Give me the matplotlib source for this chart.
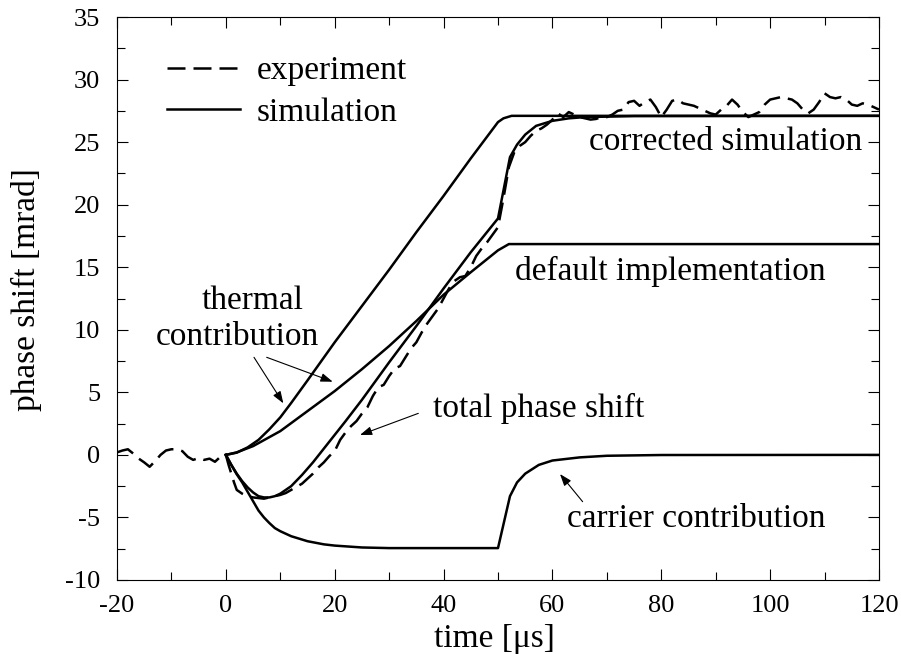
import matplotlib
matplotlib.use("Agg")
import matplotlib.pyplot as plt
from matplotlib.ticker import MultipleLocator

plt.rcParams['font.family'] = ['Liberation Serif', 'DejaVu Serif']
plt.rcParams['axes.unicode_minus'] = False

# ---------------- data ----------------
# experiment (dashed)
exp_t = [-20, -19, -18, -17, -16, -15, -14, -13, -12, -11, -10, -9, -8, -7, -6, -5, -4, -3, -2, -1, 0,
         0.5, 1, 1.5, 2, 3, 4, 5, 6, 7, 8, 9, 10, 11, 12, 13, 14, 15, 16, 17, 18, 19, 20,
         21, 22, 23, 24, 25, 26, 27, 28, 29, 30, 31, 32, 33, 34, 35, 36, 37, 38, 39, 40,
         41, 42, 43, 44, 45, 46, 47, 48, 49, 50, 51, 52, 53, 54, 55, 56, 57, 58, 59, 60,
         61, 62, 63, 64, 65, 66, 67, 68, 69, 70, 71, 72, 73, 74, 75, 76, 77, 78, 79, 80,
         81, 82, 83, 84, 85, 86, 87, 88, 89, 90, 91, 92, 93, 94, 95, 96, 97, 98, 99, 100,
         101, 102, 103, 104, 105, 106, 107, 108, 109, 110, 111, 112, 113, 114, 115, 116, 117, 118, 119, 120]
exp_phase = [0.2, 0.35, 0.45, 0.1, -0.3, -0.6, -0.95, -0.5, 0.0, 0.35, 0.45, 0.45, 0.3, -0.15, -0.4, -0.25, -0.4, -0.3, -0.55, -0.15, 0.0,
             -0.8, -1.5, -2.2, -2.8, -3.1, -3.3, -3.4, -3.45, -3.5, -3.4, -3.3, -3.2, -3.05, -2.8, -2.55, -2.3, -1.9, -1.5, -1.0, -0.6, -0.1, 0.3,
             1.2, 1.8, 2.3, 2.7, 3.3, 3.8, 4.7, 5.4, 5.6, 6.3, 6.9, 7.1, 7.8, 8.5, 9.0, 9.8, 10.5, 11.1, 11.7, 12.5,
             13.3, 13.9, 14.2, 14.3, 15.0, 15.9, 16.5, 17.0, 17.6, 18.2, 20.5, 23.0, 24.2, 24.7, 25.0, 25.5, 25.9, 26.1, 26.4, 26.8,
             27.3, 27.0, 27.4, 27.2, 27.0, 26.9, 26.8, 26.85, 27.0, 27.0, 27.2, 27.5, 27.6, 28.2, 28.3, 27.9, 28.2, 28.4, 27.8, 27.0,
             27.6, 28.3, 28.4, 28.1, 28.0, 27.9, 27.7, 27.5, 27.3, 27.2, 27.6, 27.9, 28.4, 28.0, 27.4, 27.0, 27.2, 27.4, 28.0, 28.4,
             28.5, 28.6, 28.5, 28.4, 28.1, 27.6, 27.3, 27.6, 28.2, 28.9, 28.6, 28.5, 28.6, 28.4, 28.0, 27.9, 28.1, 28.0, 27.8, 27.6]

# simulation: corrected total phase shift
tot_t = [0, 1, 2, 3, 4, 5, 6, 7, 8, 9, 10, 12, 14, 16, 18, 20, 22, 25, 28, 30, 35, 40, 45, 50,
         52.2, 53.5, 55, 57, 60, 63, 66, 75, 120]
tot_phase = [0, -0.8, -1.5, -2.1, -2.6, -3.0, -3.3, -3.4, -3.4, -3.3, -3.1, -2.5, -1.6, -0.6, 0.5, 1.6, 2.7, 4.4, 6.2, 7.4, 10.3, 13.3, 16.2, 18.9,
             23.8, 24.8, 25.6, 26.3, 26.7, 26.9, 27.0, 27.08, 27.1]

# simulation: thermal contribution (corrected)
thc_t = [0, 2, 4, 6, 8, 10, 12, 15, 20, 25, 30, 35, 40, 45, 50, 51, 52.5, 120]
thc_phase = [0, 0.18, 0.6, 1.2, 2.05, 3.0, 4.15, 5.95, 9.0, 11.9, 14.8, 17.8, 20.7, 23.7, 26.6, 26.9, 27.1, 27.1]

# simulation: thermal contribution (default implementation)
thd_t = [0, 2, 5, 10, 15, 20, 25, 30, 35, 40, 45, 50, 52, 120]
thd_phase = [0, 0.2, 0.7, 1.9, 3.5, 5.1, 6.85, 8.7, 10.7, 12.8, 14.6, 16.35, 16.85, 16.85]

# simulation: carrier contribution
car_t = [0, 1, 2, 3, 4, 5, 6, 7, 8, 9, 10, 12, 15, 18, 20, 25, 30, 50,
         52.2, 53.5, 55, 57.5, 60, 65, 70, 80, 120]
car_phase = [0, -0.8, -1.55, -2.2, -2.95, -3.7, -4.45, -5.0, -5.45, -5.85, -6.1, -6.5, -6.9, -7.15, -7.25, -7.4, -7.45, -7.45,
             -3.3, -2.2, -1.5, -0.8, -0.45, -0.2, -0.07, -0.01, 0.0]

legend_labels = ["experiment", "simulation"]
x_label = "time [\u03bcs]"
y_label = "phase shift [mrad]"

# ---------------- figure ----------------
fig = plt.figure(figsize=(9.01, 6.54), dpi=100)
ax = fig.add_axes([117/901, (654-580)/654, 762/901, 563/654])

LW = 1.8
l_exp, = ax.plot(exp_t, exp_phase, color='black', lw=LW, dashes=[7.2, 3.2])
l_sim, = ax.plot(tot_t, tot_phase, color='black', lw=LW)
ax.plot(thc_t, thc_phase, color='black', lw=LW)
ax.plot(thd_t, thd_phase, color='black', lw=LW)
ax.plot(car_t, car_phase, color='black', lw=LW)

ax.set_xlim(-20, 120)
ax.set_ylim(-10, 35)
ax.xaxis.set_major_locator(MultipleLocator(20))
ax.xaxis.set_minor_locator(MultipleLocator(10))
ax.yaxis.set_major_locator(MultipleLocator(5))
ax.yaxis.set_minor_locator(MultipleLocator(2.5))
ax.tick_params(which='both', direction='in', top=True, right=True, width=0.8, labelsize=19)
ax.tick_params(which='major', length=8)
ax.tick_params(which='minor', length=5.5)
ax.tick_params(axis='x', which='major', pad=10.5)
ax.tick_params(axis='y', which='major', pad=12)
for s in ax.spines.values():
    s.set_linewidth(0.8)

ax.set_xlabel(x_label, fontsize=24)
ax.set_ylabel(y_label, fontsize=24)
ax.xaxis.set_label_coords(0.495, -0.078)
ax.yaxis.set_label_coords(-0.0984, 0.515)

ax.legend([l_exp, l_sim], legend_labels, loc='upper left', bbox_to_anchor=(0.065, 0.931),
          frameon=False, fontsize=24, handlelength=2.19, handletextpad=0.52,
          labelspacing=0.32, borderpad=0, borderaxespad=0)

FS = 24
aprops = dict(arrowstyle='-|>,head_length=0.5,head_width=0.18', color='black', lw=0.8,
              mutation_scale=14.4, shrinkA=0, shrinkB=0)

ax.text(116.9, 24.37, "corrected simulation", fontsize=FS, ha='right', va='baseline')
ax.text(53.1, 13.95, "default implementation", fontsize=FS, ha='left', va='baseline')
ax.text(4.86, 11.64, "thermal", fontsize=FS, ha='center', va='baseline')
ax.text(2.14, 8.78, "contribution", fontsize=FS, ha='center', va='baseline')
ax.annotate("", xy=(10.56, 4.12), xytext=(5.17, 7.8), arrowprops=aprops)
ax.annotate("", xy=(19.63, 5.85), xytext=(7.5, 7.8), arrowprops=aprops)
ax.text(38.1, 3.06, "total phase shift", fontsize=FS, ha='left', va='baseline')
ax.annotate("", xy=(24.64, 1.59), xytext=(35.36, 3.32), arrowprops=aprops)
ax.text(62.62, -5.79, "carrier contribution", fontsize=FS, ha='left', va='baseline')
ax.annotate("", xy=(61.39, -1.53), xytext=(65.55, -3.74), arrowprops=aprops)

fig.savefig("out.png", dpi=100)
